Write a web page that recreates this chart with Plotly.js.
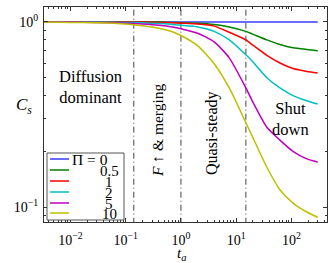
<!DOCTYPE html>
<html>
<head>
<meta charset="utf-8">
<script src="https://cdn.plot.ly/plotly-3.0.1.min.js"></script>
<style>html,body{margin:0;padding:0;background:#fff;}#chart{width:333px;height:263px;}</style>
</head>
<body>
<div id="chart"></div>
<script>
// ---- data ----
var tA       = [0.003, 0.01, 0.03, 0.1, 0.2, 0.4, 0.7, 1, 2, 4, 7.5, 15, 20, 36, 62, 107, 190, 300];
var piLabels = ['\u03a0 = 0', '0.5', '1', '2', '5', '10'];
var cs_pi0   = [1, 1, 1, 1, 1, 1, 1, 1, 1, 1, 1, 1, 1, 1, 1, 1, 1, 1];
var cs_pi05  = [1, 1, 1, 1, 1, 1, 0.995, 0.99, 0.985, 0.97, 0.94, 0.89, 0.86, 0.80, 0.755, 0.725, 0.71, 0.70];
var cs_pi1   = [1, 1, 1, 1, 1, 0.995, 0.99, 0.985, 0.975, 0.95, 0.88, 0.80, 0.75, 0.66, 0.60, 0.56, 0.54, 0.53];
var cs_pi2   = [1, 1, 1, 0.995, 0.99, 0.98, 0.97, 0.96, 0.94, 0.89, 0.80, 0.665, 0.61, 0.50, 0.44, 0.40, 0.375, 0.36];
var cs_pi5   = [1, 1, 0.995, 0.985, 0.975, 0.96, 0.94, 0.92, 0.87, 0.78, 0.64, 0.44, 0.37, 0.27, 0.23, 0.20, 0.182, 0.175];
var cs_pi10  = [1, 0.995, 0.99, 0.975, 0.955, 0.925, 0.885, 0.845, 0.745, 0.595, 0.44, 0.285, 0.238, 0.164, 0.124, 0.105, 0.094, 0.088];
var regimeBounds = [0.14, 1, 15];
var regimeNames = ['Diffusion<br>dominant', '<i>F</i> \u2191 & merging', 'Quasi-steady', 'Shut<br>down'];
var xTickVals = [0.01, 0.1, 1, 10, 100];
var xTickText = ['10<sup>\u22122</sup>', '10<sup>\u22121</sup>', '10<sup>0</sup>', '10<sup>1</sup>', '10<sup>2</sup>'];
var yTickVals = [0.1, 1];
var yTickText = ['10<sup>\u22121</sup>', '10<sup>0</sup>'];

// ---- styles ----
var series = [cs_pi0, cs_pi05, cs_pi1, cs_pi2, cs_pi5, cs_pi10];
var colors = ['#3a3aff', '#008000', '#ff0000', '#00bfbf', '#bf00bf', '#bfbf00'];
var FONT = 'Liberation Serif, DejaVu Serif, serif';

var traces = [];
regimeBounds.forEach(function (b) {
  traces.push({x: [b, b], y: [0.05, 2], mode: 'lines', hoverinfo: 'skip', showlegend: false,
    line: {color: '#444', width: 1, dash: '6px,3px,1px,3px'}});
});
series.forEach(function (s, i) {
  traces.push({x: tA, y: s, mode: 'lines', name: piLabels[i], showlegend: false,
    line: {color: colors[i], width: 1.5, shape: 'spline', smoothing: 0.6}});
});

var minorX = [];
for (var k = -3; k <= 2; k++) for (var m = 2; m <= 9; m++) minorX.push(m * Math.pow(10, k));
var minorY = [0.09, 0.2, 0.3, 0.4, 0.5, 0.6, 0.7, 0.8, 0.9];

var L = 44, T = 7, W = 283, H = 215;
function px(x) { return (x - L) / W; }
function py(y) { return (T + H - y) / H; }
function ann(x, y, text, size, extra) {
  var a = {xref: 'paper', yref: 'paper', x: px(x), y: py(y), xanchor: 'center', yanchor: 'middle',
    text: text, showarrow: false, align: 'center', font: {family: FONT, size: size, color: '#000'}};
  return Object.assign(a, extra || {});
}

var shapes = [];
var annotations = [];
// legend box
shapes.push({type: 'rect', xref: 'paper', yref: 'paper', x0: px(47), x1: px(124), y0: py(220), y1: py(153),
  line: {color: '#555', width: 1}, fillcolor: '#fff', layer: 'above'});
var rowY = [159, 170, 181, 192, 203, 213];
piLabels.forEach(function (lab, i) {
  shapes.push({type: 'line', xref: 'paper', yref: 'paper', x0: px(50), x1: px(69), y0: py(rowY[i]), y1: py(rowY[i]),
    line: {color: colors[i], width: 1.5}, layer: 'above'});
  if (i === 0) annotations.push(ann(70, rowY[i], lab, 15.5, {xanchor: 'left'}));
  else annotations.push(ann(109, rowY[i] + 1, lab, 15));
});
// regime labels
annotations.push(ann(90, 87, regimeNames[0], 16.5));
annotations.push(ann(157, 130, regimeNames[1], 15.5, {textangle: -90}));
annotations.push(ann(212, 133, regimeNames[2], 16, {textangle: -90}));
annotations.push(ann(290, 119, regimeNames[3], 16.5));
// axis titles
annotations.push(ann(24, 106, '<i>C<sub>s</sub></i>', 17));
annotations.push(ann(181, 254, '<i>t<sub>a</sub></i>', 15));

var axisCommon = {type: 'log', showgrid: false, zeroline: false, showline: true, linecolor: '#333', linewidth: 1,
  mirror: 'allticks', ticks: 'inside', ticklen: 4, tickcolor: '#333', tickmode: 'array',
  tickfont: {family: FONT, size: 14, color: '#000'}};

var layout = {
  width: 333, height: 263, margin: {l: L, r: 333 - L - W, t: T, b: 263 - T - H},
  paper_bgcolor: '#fff', plot_bgcolor: '#fff', showlegend: false,
  xaxis: Object.assign({}, axisCommon, {range: [-2.48, 2.645], tickvals: xTickVals, ticktext: xTickText,
    ticklabelstandoff: 5,
    minor: {tickmode: 'array', tickvals: minorX, ticks: 'inside', ticklen: 2, tickcolor: '#333'}}),
  yaxis: Object.assign({}, axisCommon, {range: [-1.081, 0.081], tickvals: yTickVals, ticktext: yTickText,
    ticklabelstandoff: 2,
    minor: {tickmode: 'array', tickvals: minorY, ticks: 'inside', ticklen: 2, tickcolor: '#333'}}),
  shapes: shapes, annotations: annotations
};

Plotly.newPlot('chart', traces, layout, {staticPlot: true, displayModeBar: false});
</script>
</body>
</html>
